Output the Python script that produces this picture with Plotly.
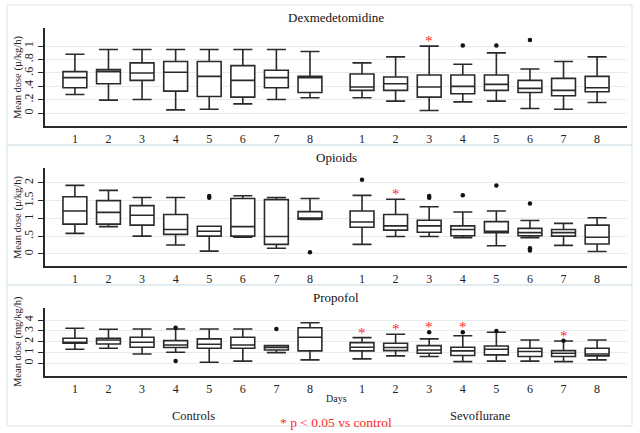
import plotly.graph_objects as go

# ---------------- data ----------------
days = ["1", "2", "3", "4", "5", "6", "7", "8"]
groups = ["Controls", "Sevoflurane"]

# Each list: 8 control days followed by 8 sevoflurane days
dex_low = [0.28, 0.195, 0.205, 0.05, 0.06, 0.14, 0.205, 0.23,
           0.23, 0.18, 0.04, 0.17, 0.18, 0.07, 0.06, 0.16]
dex_q1 = [0.38, 0.44, 0.49, 0.33, 0.25, 0.24, 0.38, 0.31,
          0.34, 0.34, 0.24, 0.29, 0.34, 0.31, 0.26, 0.32]
dex_med = [0.53, 0.62, 0.60, 0.61, 0.55, 0.49, 0.53, 0.53,
           0.39, 0.44, 0.39, 0.40, 0.43, 0.37, 0.34, 0.38]
dex_q3 = [0.62, 0.65, 0.75, 0.77, 0.77, 0.71, 0.64, 0.55,
          0.585, 0.54, 0.57, 0.57, 0.57, 0.49, 0.52, 0.55]
dex_high = [0.88, 0.95, 0.95, 0.95, 0.95, 0.95, 0.95, 0.92,
            0.75, 0.84, 1.00, 0.73, 0.90, 0.66, 0.77, 0.84]
dex_out_idx = [11, 12, 13]
dex_out_val = [1.01, 1.01, 1.09]
dex_sig = [0, 0, 1, 0, 0, 0, 0, 0]

opi_low = [0.58, 0.77, 0.50, 0.25, 0.08, 0.47, 0.16, 0.97,
           0.27, 0.49, 0.49, 0.46, 0.23, 0.46, 0.24, 0.07]
opi_q1 = [0.84, 0.84, 0.81, 0.55, 0.50, 0.50, 0.27, 0.98,
          0.75, 0.67, 0.61, 0.51, 0.60, 0.51, 0.50, 0.28]
opi_med = [1.21, 1.17, 1.09, 0.69, 0.64, 0.77, 0.49, 0.99,
           0.90, 0.79, 0.79, 0.69, 0.64, 0.60, 0.60, 0.47]
opi_q3 = [1.61, 1.50, 1.36, 1.11, 0.78, 1.56, 1.53, 1.19,
          1.21, 1.11, 0.95, 0.79, 0.91, 0.72, 0.69, 0.81]
opi_high = [1.93, 1.79, 1.59, 1.59, 0.78, 1.64, 1.59, 1.56,
            1.65, 1.54, 1.33, 1.18, 1.21, 0.94, 0.86, 1.02]
opi_out_idx = [4, 4, 7, 8, 10, 10, 11, 12, 13, 13, 13]
opi_out_val = [1.58, 1.63, 0.05, 2.09, 1.58, 1.63, 1.65, 1.93, 1.42, 0.10, 0.16]
opi_sig = [0, 1, 0, 0, 0, 0, 0, 0]

pro_low = [1.29, 1.38, 0.86, 1.02, 0.09, 0.20, 0.98, 0.31,
           0.40, 0.68, 0.62, 0.15, 0.20, 0.20, 0.15, 0.31]
pro_q1 = [1.85, 1.78, 1.48, 1.45, 1.38, 1.38, 1.23, 1.14,
          1.14, 1.17, 0.92, 0.71, 0.77, 0.62, 0.62, 0.68]
pro_med = [1.94, 2.15, 1.94, 1.69, 1.75, 1.69, 1.45, 2.40,
           1.48, 1.45, 1.23, 1.14, 1.29, 1.08, 0.92, 0.86]
pro_q3 = [2.31, 2.31, 2.40, 2.09, 2.25, 2.40, 1.63, 3.29,
          1.91, 1.85, 1.63, 1.48, 1.60, 1.38, 1.17, 1.38]
pro_high = [3.23, 3.14, 3.17, 3.17, 3.17, 3.17, 1.63, 3.75,
            2.37, 2.68, 2.25, 2.55, 2.86, 2.15, 2.06, 2.15]
pro_out_idx = [3, 3, 6, 10, 11, 12, 14]
pro_out_val = [3.29, 0.20, 3.17, 2.86, 2.86, 2.98, 2.09]
pro_sig = [1, 1, 1, 1, 0, 0, 1, 0]

panel_titles = ["Dexmedetomidine", "Opioids", "Propofol"]
y_titles = ["Mean dose (\u00b5/kg/h)", "Mean dose (\u00b5/kg/h)", "Mean dose (mg/kg/h)"]
dex_ticks = [0, 0.2, 0.4, 0.6, 0.8, 1]
dex_ticktext = ["0", ".2", ".4", ".6", ".8", "1"]
opi_ticks = [0, 0.5, 1, 1.5, 2]
opi_ticktext = ["0", ".5", "1", "1.5", "2"]
pro_ticks = [0, 1, 2, 3, 4]
pro_ticktext = ["0", "1", "2", "3", "4"]

# ---------------- layout helpers ----------------
W, H = 640, 433
def px(x):
    return x / W
def py(y):
    return 1 - y / H

GAP = 1.55
pos = [i + 1 for i in range(8)] + [i + 1 + 7 + GAP for i in range(8)]
xrange = [pos[0] - 0.89, pos[-1] + 0.89]

FONT = "Liberation Serif, Times New Roman, DejaVu Serif, serif"
INK = "#2a2a2a"
GRID = "#e2edf1"
FRAME = "#d6e5eb"
RED = "#ff2a2a"

panels = [
    dict(low=dex_low, q1=dex_q1, med=dex_med, q3=dex_q3, high=dex_high,
         oi=dex_out_idx, ov=dex_out_val, sig=dex_sig,
         ticks=dex_ticks, ticktext=dex_ticktext, yr=[-0.19, 1.27],
         top=28, bottom=126, frame=(5, 145)),
    dict(low=opi_low, q1=opi_q1, med=opi_med, q3=opi_q3, high=opi_high,
         oi=opi_out_idx, ov=opi_out_val, sig=opi_sig,
         ticks=opi_ticks, ticktext=opi_ticktext, yr=[-0.34, 2.42],
         top=168, bottom=266, frame=(145, 285)),
    dict(low=pro_low, q1=pro_q1, med=pro_med, q3=pro_q3, high=pro_high,
         oi=pro_out_idx, ov=pro_out_val, sig=pro_sig,
         ticks=pro_ticks, ticktext=pro_ticktext, yr=[-1.18, 5.11],
         top=308, bottom=376, frame=(285, 426)),
]

fig = go.Figure()
annotations = []
shapes = []

def note(x, y, text, size, color="#222", angle=0):
    return dict(x=px(x), y=py(y), xref="paper", yref="paper", text=text,
                showarrow=False, xanchor="center", yanchor="middle",
                textangle=angle, font=dict(family=FONT, size=size, color=color))

for k, p in enumerate(panels):
    sfx = "" if k == 0 else str(k + 1)
    xa, ya = "x" + sfx, "y" + sfx
    fig.add_trace(go.Box(
        x=pos, q1=p["q1"], median=p["med"], q3=p["q3"],
        lowerfence=p["low"], upperfence=p["high"],
        width=0.71, whiskerwidth=0.8, boxpoints=False,
        fillcolor="white", line=dict(color=INK, width=1.6),
        showlegend=False, xaxis=xa, yaxis=ya, hoverinfo="skip"))
    fig.add_trace(go.Scatter(
        x=[pos[i] for i in p["oi"]], y=p["ov"], mode="markers",
        marker=dict(color="#111111", size=4.5), showlegend=False,
        xaxis=xa, yaxis=ya, hoverinfo="skip"))
    # significance asterisks above the highest element of the sevoflurane box
    for d, s in enumerate(p["sig"]):
        if s:
            i = 8 + d
            tops = [p["high"][i]] + [v for j, v in zip(p["oi"], p["ov"]) if j == i]
            annotations.append(dict(
                x=pos[i], y=max(tops), xref=xa, yref=ya, text="*",
                showarrow=False, xanchor="center", yanchor="middle", yshift=5,
                font=dict(family=FONT, size=15, color=RED)))
    dom_y = [py(p["bottom"]), py(p["top"])]
    fig.update_layout(**{
        ("xaxis" + sfx): dict(
            domain=[px(45), px(627)], range=xrange, anchor=ya,
            tickvals=pos, ticktext=days + days, showgrid=False, zeroline=False,
            showline=True, linecolor=INK, linewidth=1.6,
            ticks="outside", ticklen=1, tickcolor="rgba(0,0,0,0)",
            tickfont=dict(family=FONT, size=12, color="#222")),
        ("yaxis" + sfx): dict(
            domain=dom_y, range=p["yr"], anchor=xa,
            tickvals=p["ticks"], ticktext=p["ticktext"], tickangle=-90,
            showgrid=True, gridcolor=GRID, gridwidth=1, zeroline=False,
            showline=True, linecolor=INK, linewidth=1.6,
            ticks="outside", ticklen=5, tickcolor=INK, tickwidth=1.2,
            tickfont=dict(family=FONT, size=12, color="#222")),
    })
    annotations.append(note(336, p["frame"][0] + 12, panel_titles[k], 13, "#111"))
    annotations.append(note(18, (p["top"] + p["bottom"]) / 2, y_titles[k], 10.5, "#222", -90))
    shapes.append(dict(type="rect", xref="paper", yref="paper",
                       x0=px(7), x1=px(632), y0=py(p["frame"][1]), y1=py(p["frame"][0]),
                       line=dict(color=FRAME, width=1), fillcolor="rgba(0,0,0,0)",
                       layer="below"))

annotations += [
    note(336, 398, "Days", 10),
    note(193, 416, groups[0], 12.5),
    note(480, 416, groups[1], 12.5),
    note(336, 422, "* p < 0.05 vs control", 13.5, RED),
]

fig.update_layout(
    width=W, height=H, margin=dict(l=0, r=0, t=0, b=0),
    paper_bgcolor="white", plot_bgcolor="white",
    annotations=annotations, shapes=shapes, showlegend=False,
)

fig.write_html("out.html")
